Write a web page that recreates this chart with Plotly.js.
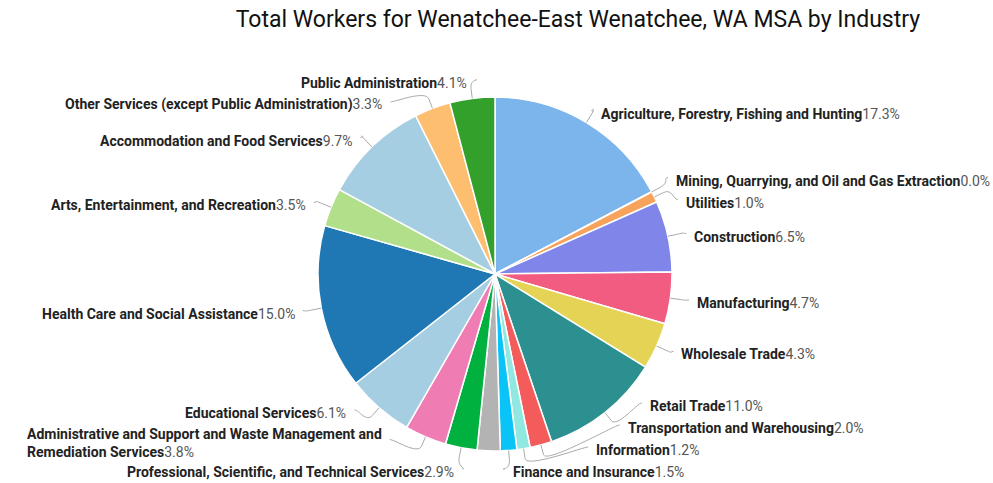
<!DOCTYPE html>
<html>
<head>
<meta charset="utf-8">
<script src="https://cdn.plot.ly/plotly-3.0.1.min.js"></script>
<style>
  html, body { margin: 0; padding: 0; background: #fff; }
  #chart { width: 993px; height: 483px; }
</style>
</head>
<body>
<div id="chart"></div>
<script>
const industries = [
    'Agriculture, Forestry, Fishing and Hunting',
    'Mining, Quarrying, and Oil and Gas Extraction',
    'Utilities',
    'Construction',
    'Manufacturing',
    'Wholesale Trade',
    'Retail Trade',
    'Transportation and Warehousing',
    'Information',
    'Finance and Insurance',
    'Real Estate and Rental and Leasing',
    'Professional, Scientific, and Technical Services',
    'Administrative and Support and Waste Management and<br>Remediation Services',
    'Educational Services',
    'Health Care and Social Assistance',
    'Arts, Entertainment, and Recreation',
    'Accommodation and Food Services',
    'Other Services (except Public Administration)',
    'Public Administration'
];

// share of workers, percent
const shares = [17.3, 0.04, 1.0, 6.5, 4.7, 4.3, 11.0, 2.0, 1.2, 1.5, 2.1, 2.9, 3.8, 6.1, 15.0, 3.5, 9.7, 3.3, 4.1];
// slices that carry an outside label
const showLabel = [true, true, true, true, true, true, true, true, true, true, false, true, true, true, true, true, true, true, true];

const sliceColors = [
    '#7cb5ec', '#434348', '#f7a35c', '#8085e9', '#f15c80', '#e4d354', '#2b908f',
    '#f45b5b', '#91e8e1', '#0bc4f7', '#b3b3b3', '#00b140', '#ef7db3', '#a6cee3',
    '#1f78b4', '#b2df8a', '#a6cee3', '#fdbf6f', '#33a02c'
];

// page geometry
const W = 993, H = 483;
const M = { l: 0, r: 3, t: 97, b: 32 };
const plotW = W - M.l - M.r, plotH = H - M.t - M.b;
const cx = M.l + plotW / 2, cy = M.t + plotH / 2;
const radius = Math.min(plotW, plotH) / 2;

// label placement settings
const labelR = radius + 25;      // distance of label edge from centre
const naturalR = radius + 13;    // where a label would sit before de-overlapping
const lineH = 22, extraLineH = 15;
const yMax = 472, yMin = 60;

function toPaperX(px) { return (px - M.l) / plotW; }
function toPaperY(py) { return 1 - (py - M.t) / plotH; }

// mid angle of every slice, clockwise from 12 o'clock
const total = shares.reduce((a, b) => a + b, 0);
let cum = 0;
const midAngle = shares.map(v => {
    const a = 2 * Math.PI * (cum + v / 2) / total;
    cum += v;
    return a;
});

function layoutSide(items) {
    items.sort((a, b) => a.natY - b.natY);
    let clusters = items.map(it => ({ items: [it] }));
    function place(c) {
        let rel = 0;
        c.items.forEach((it, k) => {
            if (k > 0) rel += (c.items[k - 1].h + it.h) / 2;
            it.rel = rel;
        });
        let off = c.items.reduce((s, it) => s + it.natY - it.rel, 0) / c.items.length;
        const last = c.items[c.items.length - 1];
        if (off + last.rel > yMax) off = yMax - last.rel;
        if (off < yMin) off = yMin;
        c.off = off;
    }
    clusters.forEach(place);
    let merged = true;
    while (merged) {
        merged = false;
        for (let k = 1; k < clusters.length; k++) {
            const a = clusters[k - 1], b = clusters[k];
            const aLast = a.items[a.items.length - 1], bFirst = b.items[0];
            if (a.off + aLast.rel + aLast.h / 2 > b.off - bFirst.h / 2) {
                a.items = a.items.concat(b.items);
                clusters.splice(k, 1);
                place(a);
                merged = true;
                break;
            }
        }
    }
    clusters.forEach(c => c.items.forEach(it => { it.y = c.off + it.rel; }));
}

const labelItems = [];
industries.forEach((name, i) => {
    if (!showLabel[i]) return;
    const a = midAngle[i];
    const lines = name.split('<br>').length;
    labelItems.push({
        i: i,
        a: a,
        right: Math.sin(a) >= 0,
        natY: cy - naturalR * Math.cos(a) + 3,
        h: lineH + (lines - 1) * extraLineH
    });
});
layoutSide(labelItems.filter(it => it.right));
layoutSide(labelItems.filter(it => !it.right));

const annotations = [];
const shapes = [];
labelItems.forEach(it => {
    const sign = it.right ? 1 : -1;
    const dy = it.y - cy;
    let dx;
    if (Math.abs(it.y - it.natY) > 1 && Math.abs(dy) < radius) {
        // shifted label: slide along a circle round the pie
        dx = Math.sqrt(Math.max(0, labelR * labelR - dy * dy));
    } else {
        dx = labelR * Math.abs(Math.sin(it.a));
    }
    const tx = cx + sign * dx;
    annotations.push({
        xref: 'paper', yref: 'paper',
        x: toPaperX(tx), y: toPaperY(it.y),
        xanchor: it.right ? 'left' : 'right', yanchor: 'middle',
        align: 'left',
        showarrow: false,
        text: '<span style="color:#222"><b>' + industries[it.i] + '</b></span>' +
            '<span style="color:#555">' + shares[it.i].toFixed(1) + '%</span>',
        font: { family: 'Roboto, sans-serif', size: 14, color: '#222' }
    });

    // connector: slice edge -> break point -> label
    const sx = cx + radius * Math.sin(it.a), sy = cy - radius * Math.cos(it.a);
    const bx = cx + (radius + 10) * Math.sin(it.a), by = cy - (radius + 10) * Math.cos(it.a);
    const lx = tx - sign * 6, ly = it.y - 3;
    const c1x = lx - sign * 5, c1y = ly;
    const c2x = 2 * bx - sx, c2y = 2 * by - sy;
    const P = (x, y) => toPaperX(x) + ',' + toPaperY(y);
    shapes.push({
        type: 'path', xref: 'paper', yref: 'paper',
        path: 'M' + P(lx, ly) + ' C' + P(c1x, c1y) + ' ' + P(c2x, c2y) + ' ' + P(bx, by) + ' L' + P(sx, sy),
        line: { color: '#aaaaaa', width: 1 }
    });
});

const trace = {
    type: 'pie',
    labels: industries,
    values: shares,
    textinfo: 'none',
    sort: false,
    direction: 'clockwise',
    rotation: 0,
    domain: { x: [0, 1], y: [0, 1] },
    marker: { colors: sliceColors, line: { color: '#ffffff', width: 1.5 } },
    showlegend: false,
    hoverinfo: 'label+percent'
};

const layout = {
    width: W,
    height: H,
    margin: M,
    paper_bgcolor: '#ffffff',
    title: {
        text: 'Total Workers for Wenatchee-East Wenatchee, WA MSA by Industry',
        font: { family: 'Roboto, sans-serif', size: 23, color: '#111' },
        x: 0.582,
        xanchor: 'center',
        y: 0.96,
        yanchor: 'middle',
        yref: 'container'
    },
    showlegend: false,
    annotations: annotations,
    shapes: shapes
};

Plotly.newPlot('chart', [trace], layout, { displayModeBar: false, staticPlot: true });
</script>
</body>
</html>
